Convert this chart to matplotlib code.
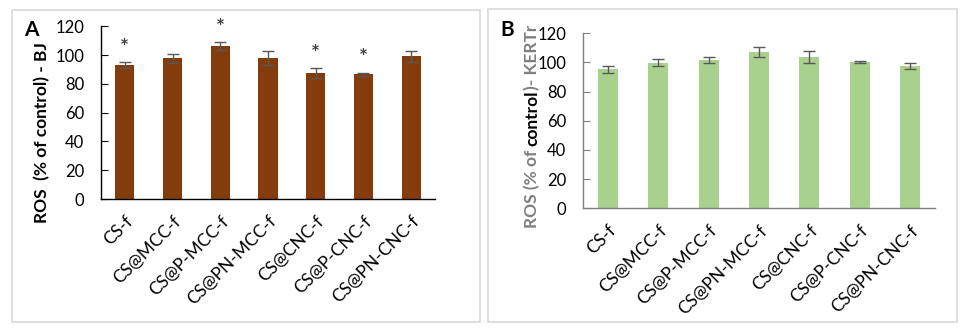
import numpy as np
import matplotlib
matplotlib.use('Agg')
import matplotlib.pyplot as plt
from matplotlib.patches import Rectangle

plt.rcParams['font.family'] = ['Lato', 'DejaVu Sans']

# Data
samples = ['CS-f', 'CS@MCC-f', 'CS@P-MCC-f', 'CS@PN-MCC-f',
           'CS@CNC-f', 'CS@P-CNC-f', 'CS@PN-CNC-f']
ros_bj = [93.1, 97.9, 106.2, 97.9, 87.5, 86.8, 99.3]
err_bj = [2.0, 3.2, 2.8, 5.0, 3.2, 1.0, 3.8]
signif_bj = [True, False, True, False, True, True, False]
ros_kertr = [95.5, 99.7, 101.7, 107.2, 103.8, 100.3, 97.6]
err_kertr = [2.4, 2.4, 2.0, 3.4, 4.2, 1.0, 2.2]
yticks = [0, 20, 40, 60, 80, 100, 120]

W, H = 964, 329
fig = plt.figure(figsize=(W / 100, H / 100), dpi=100)

# light gray frames round each panel
for x0, y0, x1, y1 in [(11.7, 10, 480, 322), (488.3, 9.3, 956.7, 321.7)]:
    fig.patches.append(Rectangle((x0 / W, 1 - y1 / H), (x1 - x0) / W, (y1 - y0) / H,
                                 transform=fig.transFigure, fill=False,
                                 edgecolor='#d9d9d9', linewidth=1.2))


def panel(rect, values, errs, color, spine_color):
    ax = fig.add_axes(rect)
    x = np.arange(len(samples))
    ax.bar(x, values, width=0.4, color=color, zorder=2)
    ax.errorbar(x, values, yerr=errs, fmt='none', ecolor='#595959',
                elinewidth=1.0, capsize=4, capthick=1.0, zorder=3)
    ax.set_xlim(-0.5, len(samples) - 0.5)
    ax.set_ylim(0, 120)
    ax.set_yticks(yticks)
    ax.set_xticks(x)
    ax.set_xticklabels(samples, rotation=45, ha='right', rotation_mode='anchor',
                       fontsize=12.5)
    ax.tick_params(axis='x', length=0, pad=10)
    ax.tick_params(axis='y', direction='in', length=5, pad=12,
                   labelsize=12, color=spine_color)
    for s in ['top', 'right']:
        ax.spines[s].set_visible(False)
    for s in ['left', 'bottom']:
        ax.spines[s].set_color(spine_color)
        ax.spines[s].set_linewidth(1.0)
    return ax, x


# Panel A
axA, x = panel([101 / W, 1 - 199 / H, 334 / W, 172.7 / H], ros_bj, err_bj,
               '#843c0c', 'black')
for xi, v, e, s in zip(x, ros_bj, err_bj, signif_bj):
    if s:
        axA.text(xi, v + e + 10, '*', ha='center', va='center',
                 fontsize=15, fontweight='bold', color='#404040')
fig.text(41.7 / W, 1 - 133 / H, 'ROS  (% of control) - BJ', rotation=90,
         ha='center', va='center', fontsize=12.5, fontweight='bold')
fig.text(31.7 / W, 1 - 30 / H, 'A', ha='center', va='center',
         fontsize=15, fontweight='bold')

# Panel B
axB, x = panel([583 / W, 1 - 208.3 / H, 352 / W, 175 / H], ros_kertr, err_kertr,
               '#a9d18e', '#7f7f7f')
fig.text(507 / W, 1 - 30 / H, 'B', ha='center', va='center',
         fontsize=15, fontweight='bold')

# y label of B in three coloured pieces, stacked upwards
fig.canvas.draw()
renderer = fig.canvas.get_renderer()
y_px = 228.0
for part, col in [('ROS (% of ', '#7f7f7f'), ('control', 'black'), (')- KERTr', '#7f7f7f')]:
    t = fig.text(532 / W, 1 - y_px / H, part, rotation=90, ha='center', va='bottom',
                 fontsize=12.5, fontweight='bold', color=col)
    bb = t.get_window_extent(renderer)
    y_px -= bb.height

fig.savefig('out.png', dpi=100)
